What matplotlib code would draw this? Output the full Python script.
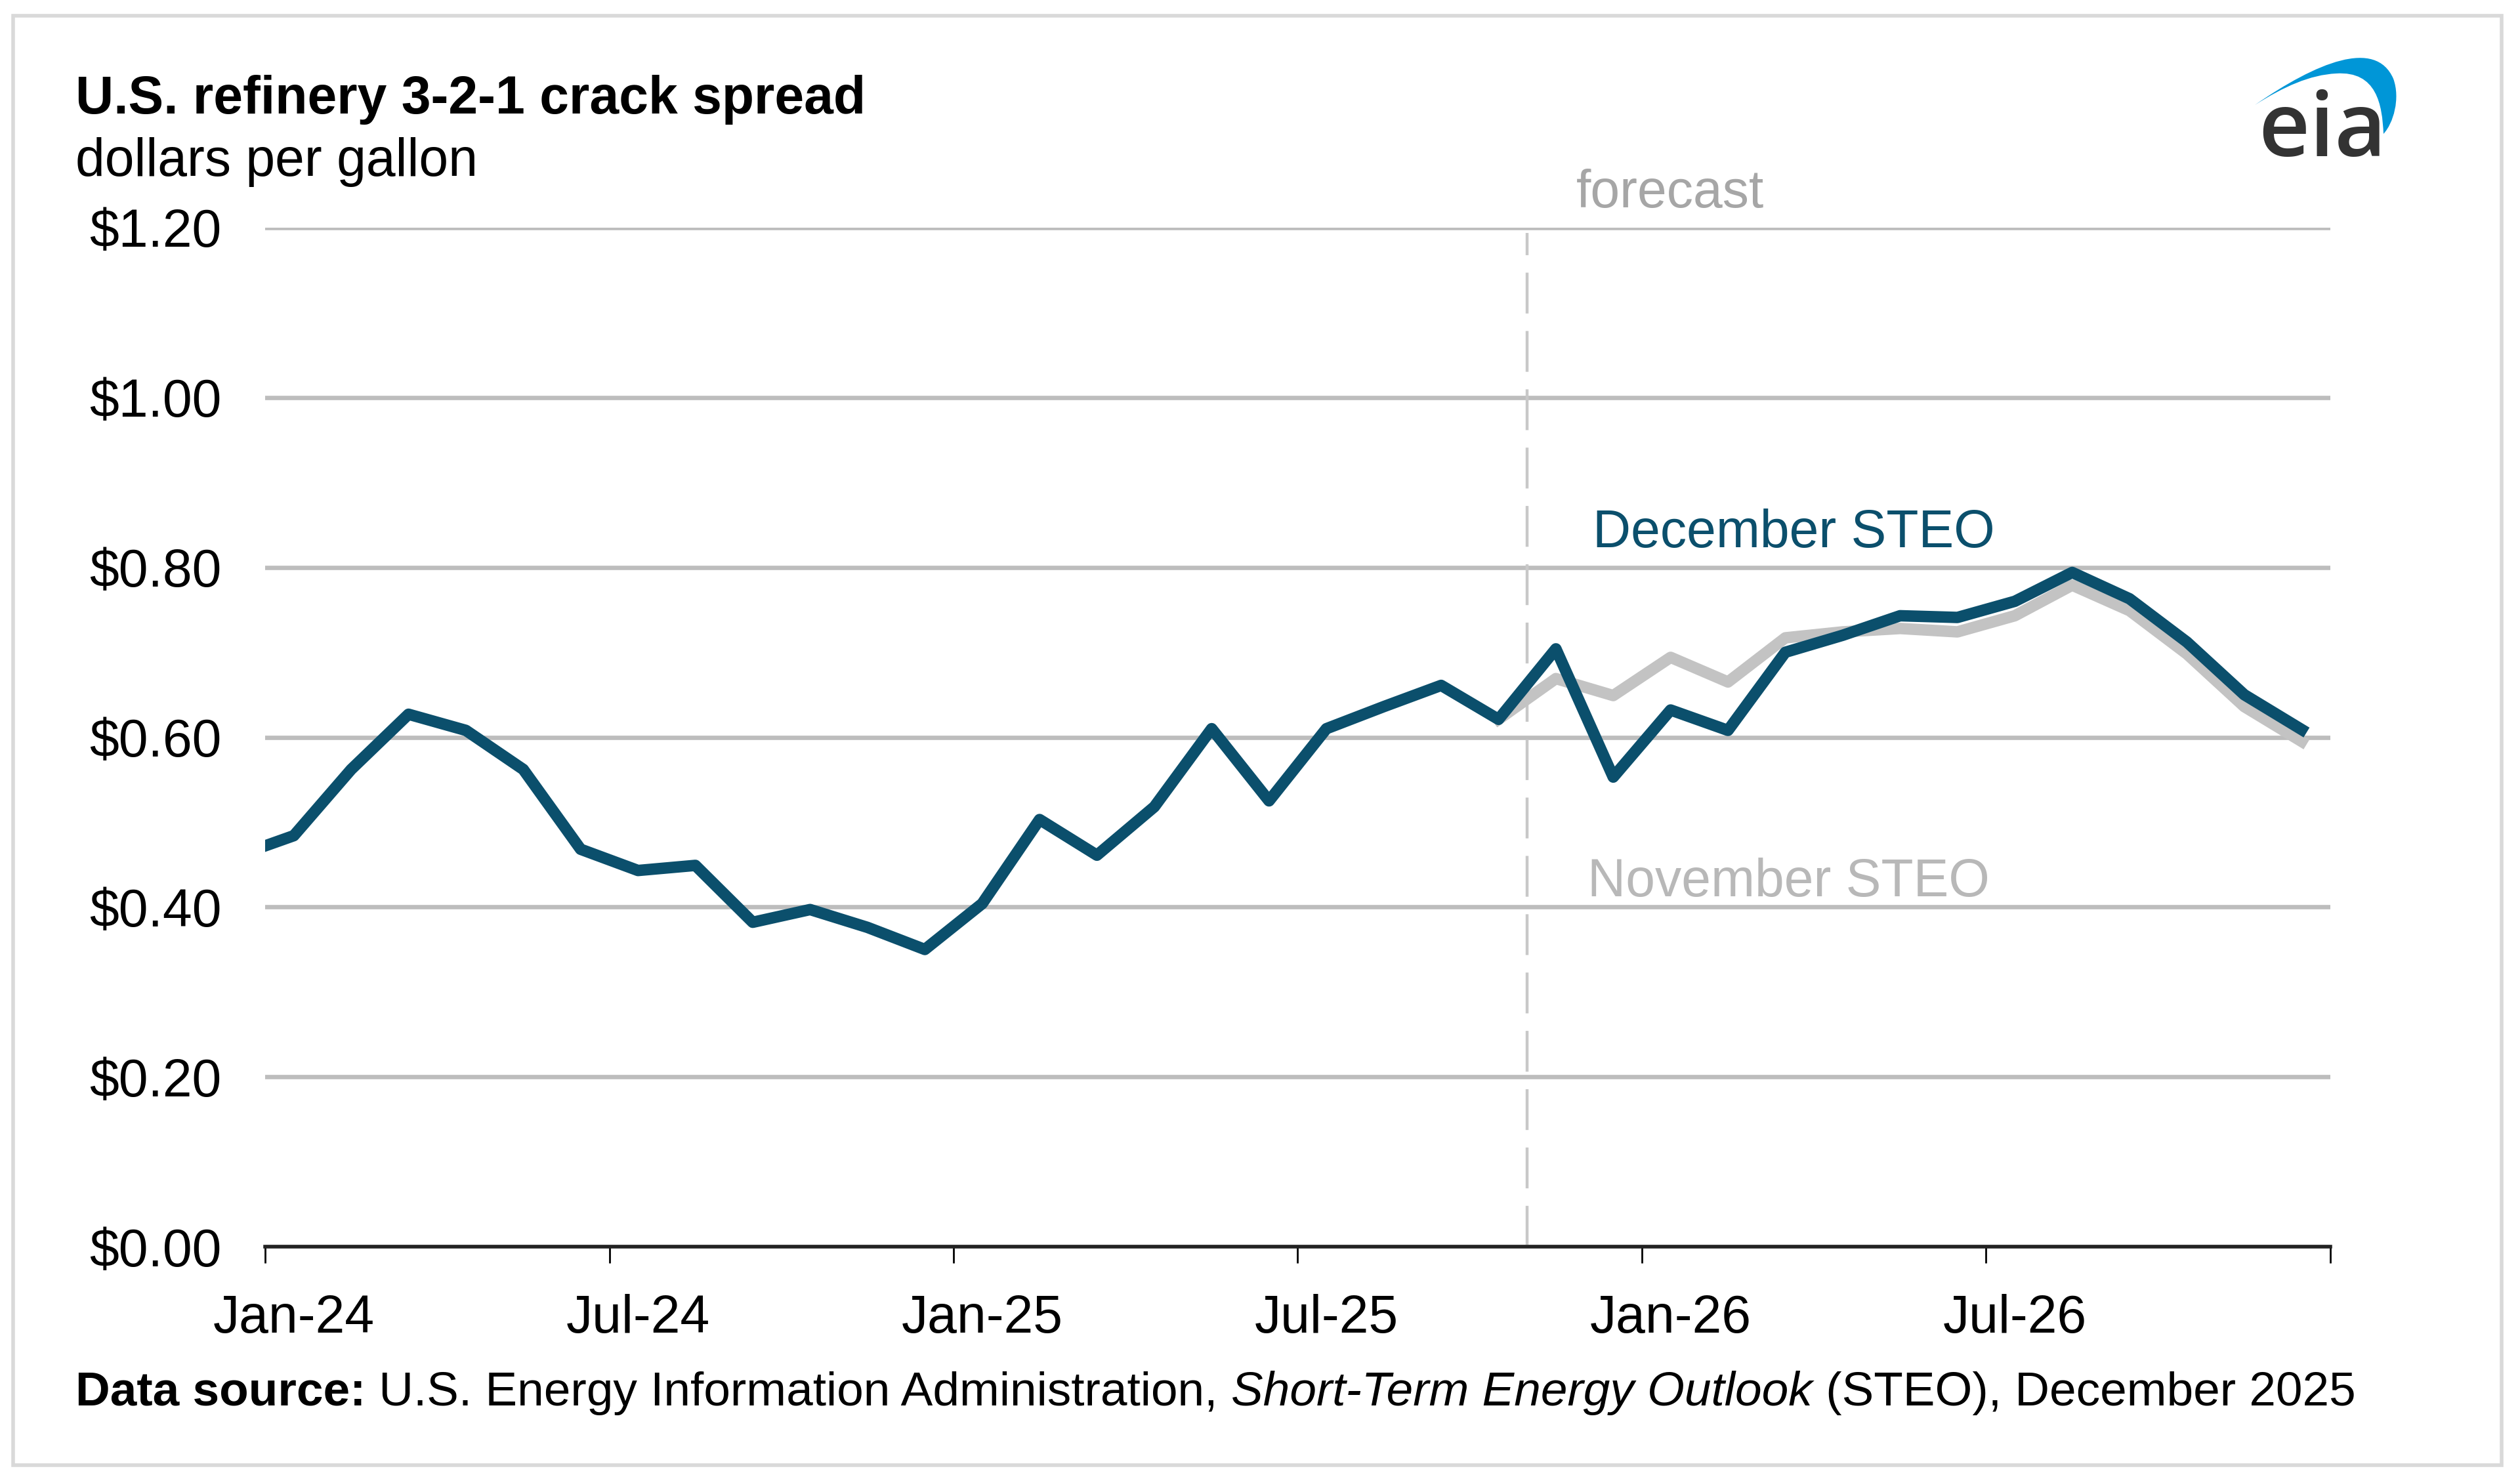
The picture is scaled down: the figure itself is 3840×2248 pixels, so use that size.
import matplotlib
matplotlib.use('Agg')
import matplotlib.pyplot as plt
import numpy as np
import pandas as pd
from matplotlib.patches import Rectangle, PathPatch
from matplotlib.path import Path

plt.rcParams['font.family'] = ['Liberation Sans', 'DejaVu Sans']

# monthly data, Dec-23 .. Dec-26 (Dec-23 only feeds the clipped line start)
months = pd.period_range('2023-12', '2026-12', freq='M')
dec_steo = [0.460,
            0.484, 0.562, 0.627, 0.608, 0.562, 0.468, 0.443, 0.449, 0.382, 0.397, 0.376, 0.350,
            0.404, 0.503, 0.461, 0.518, 0.610, 0.525, 0.610, 0.636, 0.661, 0.621, 0.704, 0.553,
            0.632, 0.608, 0.700, 0.720, 0.743, 0.741, 0.760, 0.794, 0.763, 0.712, 0.650, 0.609]
nov_months = pd.period_range('2025-10', '2026-12', freq='M')
nov_steo = [0.621, 0.669, 0.649,
            0.694, 0.665, 0.717, 0.724, 0.728, 0.724, 0.743, 0.779, 0.749, 0.698, 0.636, 0.595]
forecast_start = pd.Period('2025-11', freq='M')

y_ticks = [0.0, 0.2, 0.4, 0.6, 0.8, 1.0, 1.2]
x_labels = ['Jan-24', 'Jul-24', 'Jan-25', 'Jul-25', 'Jan-26', 'Jul-26']

dark = '#0b4f6c'
grey_line = '#c3c3c3'

W, H = 3840, 2248
fig = plt.figure(figsize=(W / 200, H / 200), dpi=200)
ax = fig.add_axes([404 / W, 1 - 1900 / H, (3551 - 404) / W, (1900 - 347) / H])

base = pd.Period('2024-01', freq='M')
x_dec = np.array([(m - base).n for m in months]) + 0.5
x_nov = np.array([(m - base).n for m in nov_months]) + 0.5
x_fc = (forecast_start - base).n

ax.plot(x_nov, nov_steo, color=grey_line, lw=6.3, solid_joinstyle='round', zorder=3)
ax.plot(x_dec, dec_steo, color=dark, lw=6.3, solid_joinstyle='round', zorder=4)
ax.axvline(x_fc, ymin=0, ymax=0.995, color='#c8c8c8', lw=1.6, dashes=(14, 6), zorder=2)

ax.set_xlim(0, 36)
ax.set_ylim(0, 1.2)
ax.set_yticks(y_ticks)
ax.set_yticklabels(['${:.2f}'.format(v) for v in y_ticks])
ax.tick_params(axis='y', length=0, pad=24, labelsize=29, labelcolor='#000000')
ax.grid(axis='y', color='#bdbdbd', lw=2.4, zorder=1)
ax.set_axisbelow(True)

ax.set_xticks(np.arange(0, 37, 6))
ax.set_xticklabels([])
ax.set_xticks(np.arange(0, 36, 6) + 0.5, minor=True)
ax.set_xticklabels(x_labels, minor=True)
ax.tick_params(axis='x', which='major', length=9, width=1, color='#000000', direction='out')
ax.tick_params(axis='x', which='minor', length=0, pad=26, labelsize=29, labelcolor='#000000')

for s in ['left', 'right', 'top']:
    ax.spines[s].set_visible(False)
ax.spines['bottom'].set_color('#222222')
ax.spines['bottom'].set_linewidth(2)
ax.spines['bottom'].set_zorder(5)

# series labels
ax.text(23.14, 0.840, 'December STEO', color=dark, fontsize=29, va='center', ha='left')
ax.text(23.05, 0.429, 'November STEO', color='#b8b8b8', fontsize=29, va='center', ha='left')
ax.text(22.86, 1.240, 'forecast', color='#a6a6a6', fontsize=29, va='center', ha='left', clip_on=False)

# title
fig.text(115 / W, 1 - 173 / H, 'U.S. refinery 3-2-1 crack spread', fontsize=29, fontweight='bold', va='baseline')
fig.text(115 / W, 1 - 268 / H, 'dollars per gallon', fontsize=29, va='baseline')

# source line built from pieces
fig.canvas.draw()
r = fig.canvas.get_renderer()
xpos = 115
pieces = [('Data source:', 'bold', 'normal'),
          (' U.S. Energy Information Administration, ', 'normal', 'normal'),
          ('Short-Term Energy Outlook', 'normal', 'italic'),
          (' (STEO), December 2025', 'normal', 'normal')]
for txt, wt, st in pieces:
    t = fig.text(xpos / W, 1 - 2142 / H, txt, fontsize=26.3, fontweight=wt, style=st, va='baseline')
    bb = t.get_window_extent(renderer=r)
    xpos += bb.width

# outer border
fig.patches.append(Rectangle((20 / W, 1 - 2233 / H), (3812 - 20) / W, (2233 - 24) / H,
                             transform=fig.transFigure, fill=False, ec='#d9d9d9', lw=2))

# eia logo
def fp(x, y):
    return (x / W, 1 - y / H)

verts = [fp(3436, 160), fp(3530, 95), fp(3620, 58), fp(3647, 120),
         fp(3658, 150), fp(3647, 188), fp(3632, 204),
         fp(3630, 160), fp(3622, 108), fp(3560, 112),
         fp(3520, 114), fp(3480, 132), fp(3436, 160), fp(3436, 160)]
codes = [Path.MOVETO, Path.CURVE4, Path.CURVE4, Path.CURVE4,
         Path.CURVE4, Path.CURVE4, Path.CURVE4,
         Path.CURVE4, Path.CURVE4, Path.CURVE4,
         Path.CURVE4, Path.CURVE4, Path.CURVE4, Path.CLOSEPOLY]
fig.patches.append(PathPatch(Path(verts, codes), transform=fig.transFigure, fc='#0096d7', ec='none'))
fig.text(3441 / W, 1 - 238 / H, 'eia', fontsize=49, family=['Open Sans', 'DejaVu Sans'],
         fontweight='semibold', color='#333333', va='baseline')

fig.savefig('out.png', dpi=200)
